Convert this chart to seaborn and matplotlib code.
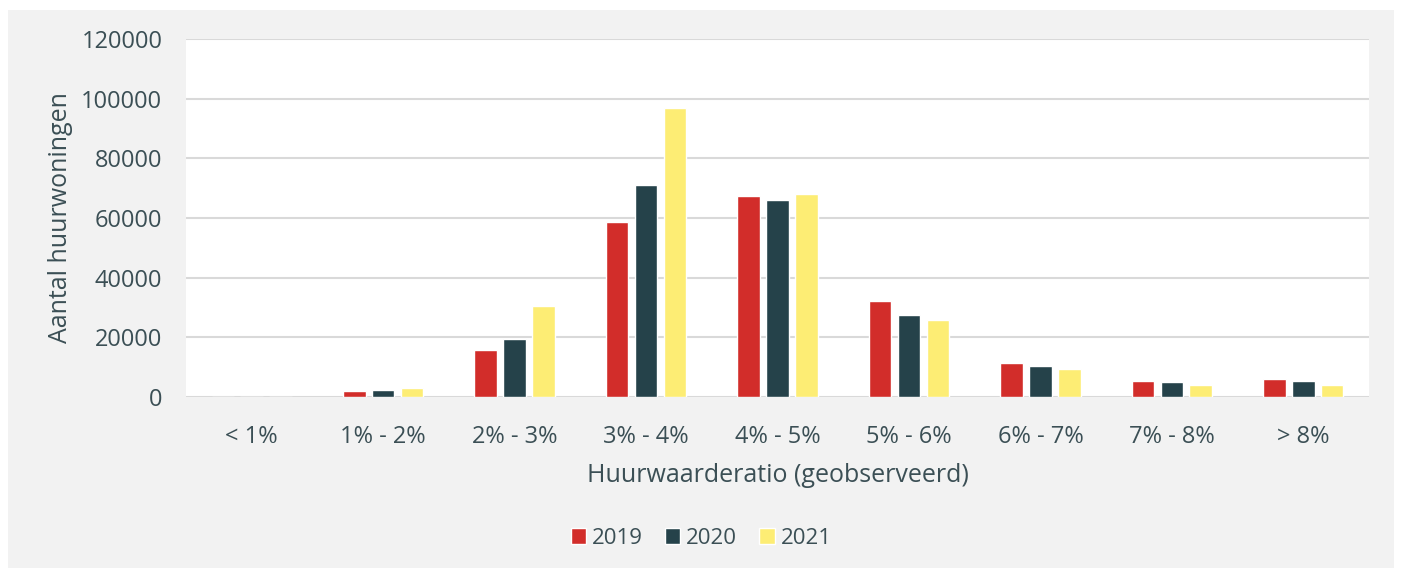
import matplotlib
matplotlib.use("Agg")
import matplotlib.pyplot as plt
from matplotlib.patches import Rectangle
import seaborn as sns
import pandas as pd

# values
categories = ["< 1%", "1% - 2%", "2% - 3%", "3% - 4%", "4% - 5%",
              "5% - 6%", "6% - 7%", "7% - 8%", "> 8%"]
years = ["2019", "2020", "2021"]
v2019 = [0, 2100, 15800, 58800, 67500, 32300, 11300, 5300, 6000]
v2020 = [0, 2500, 19600, 70900, 66200, 27400, 10500, 5000, 5200]
v2021 = [0, 2900, 30400, 97000, 68200, 25700, 9500, 3900, 3900]
yticks = [0, 20000, 40000, 60000, 80000, 100000, 120000]

colors = ["#d22d2a", "#25424a", "#fded74"]
txt = "#3b4f55"

rows = []
for yr, vals in zip(years, [v2019, v2020, v2021]):
    for c, v in zip(categories, vals):
        rows.append({"cat": c, "jaar": yr, "aantal": v})
df = pd.DataFrame(rows)

sns.set_style("white")
plt.rcParams["font.family"] = ["Open Sans", "DejaVu Sans"]

fig = plt.figure(figsize=(14.02, 5.71), dpi=100)
fig.patch.set_facecolor("white")
fig.patches.append(Rectangle((8 / 1402, 3 / 571), 1386 / 1402, 558 / 571,
                             transform=fig.transFigure, facecolor="#f2f2f2",
                             edgecolor="none", zorder=-10))

ax = fig.add_axes([186 / 1402, 1 - 397 / 571, 1183 / 1402, 358 / 571])
sns.barplot(data=df, x="cat", y="aantal", hue="jaar", palette=colors,
            order=categories, hue_order=years, width=0.66, gap=0.22,
            saturation=1, ax=ax, legend=False, zorder=3)

ax.set_ylim(0, 120000)
ax.set_yticks(yticks)
ax.set_yticklabels([str(t) for t in yticks])
ax.grid(axis="y", color="#d9d9d9", linewidth=1.5, zorder=0)
ax.set_axisbelow(True)
for s in ax.spines.values():
    s.set_visible(False)
ax.tick_params(axis="both", length=0, labelsize=17, colors=txt)
ax.tick_params(axis="x", pad=20)
ax.tick_params(axis="y", pad=17)
ax.set_xlabel("Huurwaarderatio (geobserveerd)", fontsize=18, color=txt, labelpad=10)
ax.set_ylabel("Aantal huurwoningen", fontsize=18, color=txt, labelpad=6)

handles = [Rectangle((0, 0), 1, 1, facecolor=c) for c in colors]
fig.legend(handles, years, loc="center", bbox_to_anchor=(0.5, 1 - 538 / 571),
           ncol=3, frameon=False, fontsize=16, labelcolor=txt,
           handlelength=0.7, handleheight=0.7, handletextpad=0.25,
           columnspacing=1.0)

fig.savefig("out.png", dpi=100)
